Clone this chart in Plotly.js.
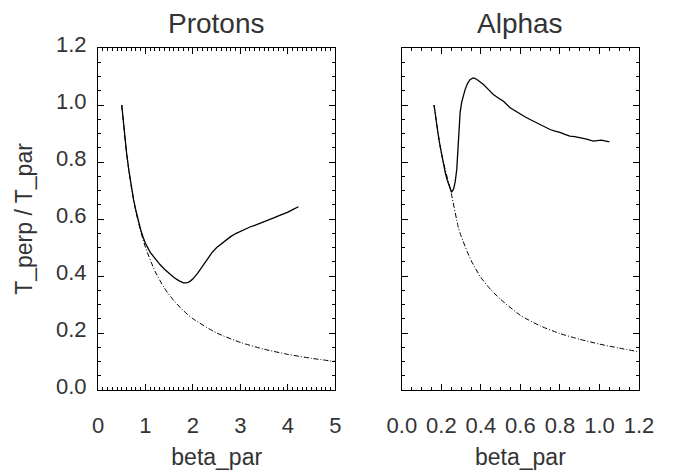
<!DOCTYPE html>
<html>
<head>
<meta charset="utf-8">
<script src="https://cdn.plot.ly/plotly-3.0.1.min.js"></script>
<style>html,body{margin:0;padding:0;background:#fff;}#chart{width:674px;height:470px;}</style>
</head>
<body>
<div id="chart"></div>
<script>
// ---- Data ----
var panelTitles = ["Protons", "Alphas"];
var xTitle = "beta_par";
var yTitle = "T_perp / T_par";

// Protons: measured curve (solid)
var protonBeta = [0.5, 0.55, 0.6, 0.65, 0.7, 0.75, 0.8, 0.85, 0.9, 0.95, 1.0, 1.1, 1.2, 1.3, 1.4, 1.5, 1.6, 1.7, 1.75, 1.8, 1.85, 1.9, 1.95, 2.0, 2.1, 2.2, 2.3, 2.4, 2.5, 2.6, 2.7, 2.8, 2.9, 3.0, 3.1, 3.2, 3.3, 3.4, 3.5, 3.6, 3.7, 3.8, 3.9, 4.0, 4.1, 4.22];
var protonRatio = [1.0, 0.91, 0.835, 0.77, 0.715, 0.667, 0.628, 0.592, 0.562, 0.536, 0.514, 0.483, 0.46, 0.441, 0.424, 0.409, 0.395, 0.384, 0.379, 0.376, 0.376, 0.378, 0.383, 0.39, 0.41, 0.434, 0.459, 0.482, 0.5, 0.514, 0.527, 0.539, 0.549, 0.557, 0.565, 0.572, 0.578, 0.584, 0.591, 0.597, 0.604, 0.611, 0.617, 0.624, 0.633, 0.643];
// Protons: reference curve (dash-dot)
var protonRefBeta = [0.5, 0.6, 0.7, 0.8, 0.9, 1.0, 1.2, 1.4, 1.6, 1.8, 2.0, 2.5, 3.0, 3.5, 4.0, 4.5, 5.0];
var protonRefRatio = [1.0, 0.833, 0.714, 0.625, 0.556, 0.5, 0.417, 0.357, 0.313, 0.278, 0.25, 0.2, 0.167, 0.143, 0.125, 0.111, 0.1];

// Alphas: measured curve (solid)
var alphaBeta = [0.163, 0.17, 0.18, 0.19, 0.2, 0.21, 0.22, 0.23, 0.24, 0.252, 0.262, 0.27, 0.278, 0.285, 0.29, 0.295, 0.303, 0.312, 0.32, 0.332, 0.345, 0.36, 0.372, 0.385, 0.4, 0.413, 0.44, 0.463, 0.49, 0.514, 0.548, 0.575, 0.598, 0.625, 0.649, 0.675, 0.699, 0.725, 0.75, 0.775, 0.8, 0.825, 0.85, 0.875, 0.9, 0.935, 0.969, 0.99, 1.01, 1.05];
var alphaRatio = [1.0, 0.96, 0.915, 0.87, 0.83, 0.792, 0.762, 0.736, 0.713, 0.694, 0.705, 0.73, 0.774, 0.86, 0.93, 0.975, 1.01, 1.035, 1.054, 1.075, 1.089, 1.095, 1.093, 1.087, 1.08, 1.072, 1.053, 1.037, 1.024, 1.013, 0.99, 0.978, 0.967, 0.958, 0.949, 0.94, 0.932, 0.922, 0.914, 0.908, 0.904, 0.897, 0.891, 0.889, 0.886, 0.88, 0.873, 0.874, 0.877, 0.871];
// Alphas: reference curve (dash-dot)
var alphaRefBeta = [0.163, 0.2, 0.25, 0.286, 0.3, 0.35, 0.4, 0.45, 0.5, 0.6, 0.7, 0.8, 0.9, 1.0, 1.1, 1.2];
var alphaRefRatio = [1.0, 0.83, 0.69, 0.57, 0.54, 0.455, 0.395, 0.352, 0.318, 0.262, 0.225, 0.198, 0.178, 0.161, 0.147, 0.134];

// ---- Styling ----
var FONT = "Liberation Sans, Arial, Helvetica, sans-serif";
var TXT = "#333333";

function solid(x, y, xa, ya) {
  return {x: x, y: y, xaxis: xa, yaxis: ya, type: "scatter", mode: "lines",
          line: {color: "#000", width: 1.3, shape: "linear"}, hoverinfo: "skip"};
}
function dashdot(x, y, xa, ya) {
  return {x: x, y: y, xaxis: xa, yaxis: ya, type: "scatter", mode: "lines",
          line: {color: "#000", width: 1, dash: "5px,2px,1px,2px", shape: "spline", smoothing: 0.6}, hoverinfo: "skip"};
}

var traces = [
  dashdot(protonRefBeta, protonRefRatio, "x", "y"),
  solid(protonBeta, protonRatio, "x", "y"),
  dashdot(alphaRefBeta, alphaRefRatio, "x2", "y2"),
  solid(alphaBeta, alphaRatio, "x2", "y2")
];

function axisBase() {
  return {
    showline: true, linecolor: "#000", linewidth: 1, mirror: "allticks",
    ticks: "inside", ticklen: 6, tickwidth: 1, tickcolor: "#000",
    showgrid: false, zeroline: false, fixedrange: true,
    tickfont: {family: FONT, size: 22, color: TXT}
  };
}

var xa1 = Object.assign(axisBase(), {
  domain: [0, 0.4389], range: [0, 5], tickmode: "linear", tick0: 0, dtick: 1,
  minor: {dtick: 0.1, ticks: "inside", ticklen: 3, tickcolor: "#000", showgrid: false},
  ticklabelstandoff: 16,
  title: {text: xTitle, font: {family: FONT, size: 23, color: TXT}, standoff: 12}
});
var ya1 = Object.assign(axisBase(), {
  domain: [0, 1], range: [0, 1.2], tickmode: "linear", tick0: 0, dtick: 0.2, tickformat: ".1f",
  minor: {dtick: 0.05, ticks: "inside", ticklen: 3, tickcolor: "#000", showgrid: false},
  ticklabelstandoff: 6, ticklabelshift: -4,
  title: {text: yTitle, font: {family: FONT, size: 23, color: TXT}, standoff: 16}
});
var xa2 = Object.assign(axisBase(), {
  domain: [0.5616, 1], range: [0, 1.2], anchor: "y2", tickmode: "linear", tick0: 0, dtick: 0.2, tickformat: ".1f",
  minor: {dtick: 0.05, ticks: "inside", ticklen: 3, tickcolor: "#000", showgrid: false},
  ticklabelstandoff: 16,
  title: {text: xTitle, font: {family: FONT, size: 23, color: TXT}, standoff: 12}
});
var ya2 = Object.assign(axisBase(), {
  domain: [0, 1], range: [0, 1.2], anchor: "x2", tickmode: "linear", tick0: 0, dtick: 0.2,
  showticklabels: false,
  minor: {dtick: 0.05, ticks: "inside", ticklen: 3, tickcolor: "#000", showgrid: false}
});

var layout = {
  width: 674, height: 470,
  margin: {l: 98, r: 35, t: 48, b: 80, pad: 0},
  paper_bgcolor: "#fff", plot_bgcolor: "#fff",
  showlegend: false,
  xaxis: xa1, yaxis: ya1, xaxis2: xa2, yaxis2: ya2,
  annotations: [
    {text: panelTitles[0], xref: "x domain", yref: "paper", x: 0.5, y: 1, yanchor: "bottom", xanchor: "center",
     yshift: 7, showarrow: false, font: {family: FONT, size: 28, color: TXT}},
    {text: panelTitles[1], xref: "x2 domain", yref: "paper", x: 0.5, y: 1, yanchor: "bottom", xanchor: "center",
     yshift: 7, showarrow: false, font: {family: FONT, size: 28, color: TXT}}
  ]
};

Plotly.newPlot("chart", traces, layout, {displayModeBar: false, staticPlot: true});
</script>
</body>
</html>
